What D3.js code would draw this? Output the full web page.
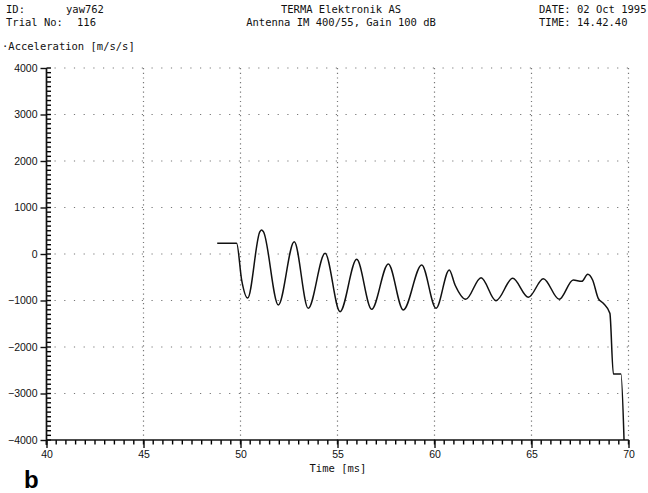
<!DOCTYPE html>
<html>
<head>
<meta charset="utf-8">
<script src="https://cdn.jsdelivr.net/npm/d3@7"></script>
<style>
  body { margin: 0; background: #fff; overflow: hidden; }
  svg { display: block; }
  .hdr { font-family: "DejaVu Sans Mono", monospace; font-size: 10.5px; fill: #111; }
  .tick text { font-family: "Liberation Sans", Arial, sans-serif; font-size: 10.5px; fill: #111; }
  .domain, .tick line { stroke: #111; }
</style>
</head>
<body>
<svg id="chart" width="648" height="493"></svg>
<script>
// time (ms) and acceleration (m/s/s)
var times = [48.80, 49.80, 50.06, 50.37, 51.00, 51.09, 51.18, 51.95, 52.77, 53.49, 54.36,
             55.13, 55.99, 56.76, 57.62, 58.39, 59.34, 60.08, 60.76, 61.06, 61.61,
             62.40, 63.17, 64.03, 64.84, 65.61, 66.43, 67.15, 67.59, 67.90, 68.15,
             68.44, 68.70, 69.04, 69.22, 69.61, 69.77];
var accel = [230, 230, -560, -946, 480, 516, 480, -1097, 265, -1168, 15,
             -1240, -115, -1190, -215, -1204, -237, -1168, -344, -667, -975,
             -509, -1004, -523, -931, -531, -975, -559, -588, -437, -559,
             -953, -1060, -1276, -2580, -2580, -4000];

var xTicks = [40, 45, 50, 55, 60, 65, 70];
var yTicks = [-4000, -3000, -2000, -1000, 0, 1000, 2000, 3000, 4000];
var xMinor = d3.range(40, 70.01, 0.5);
var yMinor = d3.range(-4000, 4001, 100);

function chart()
{
    var svg = d3.select("#chart");
    var x = d3.scaleLinear().domain([40, 70]).range([46.5, 628.5]);
    var y = d3.scaleLinear().domain([-4000, 4000]).range([440, 68]);

    // header
    var hdr = [
        {t: "ID:", x: 6, y: 13}, {t: "yaw762", x: 66, y: 13},
        {t: "Trial No:", x: 6, y: 26}, {t: "116", x: 77, y: 26},
        {t: "DATE: 02 Oct 1995", x: 539, y: 13}, {t: "TIME: 14.42.40", x: 539, y: 26},
        {t: "\u00b7Acceleration [m/s/s]", x: 2, y: 50}
    ];
    svg.selectAll(".hl").data(hdr).enter().append("text")
        .attr("class", "hdr").attr("x", d => d.x).attr("y", d => d.y).text(d => d.t);
    svg.append("text").attr("class", "hdr").attr("x", 341).attr("y", 13)
        .attr("text-anchor", "middle").text("TERMA Elektronik AS");
    svg.append("text").attr("class", "hdr").attr("x", 341).attr("y", 26)
        .attr("text-anchor", "middle").text("Antenna IM 400/55, Gain 100 dB");

    // dotted grid
    var grid = svg.append("g").attr("stroke", "#777").attr("stroke-width", 1.2);
    grid.selectAll(".gh").data(yTicks.slice(1)).enter().append("line")
        .attr("x1", x(40) + 8).attr("x2", x(70))
        .attr("y1", d => y(d)).attr("y2", d => y(d))
        .attr("stroke-dasharray", "1.2,8.5");
    grid.selectAll(".gv").data(xTicks.slice(1)).enter().append("line")
        .attr("x1", d => x(d)).attr("x2", d => x(d))
        .attr("y1", y(4000)).attr("y2", y(-4000))
        .attr("stroke-dasharray", "1.2,3.5");

    // minor tick combs
    var ax = svg.append("g").attr("stroke", "#000").attr("stroke-width", 1.4);
    ax.selectAll(".ym").data(yMinor).enter().append("line")
        .attr("x1", x(40)).attr("x2", x(40) + 4.5)
        .attr("y1", d => y(d)).attr("y2", d => y(d));
    ax.selectAll(".xm").data(xMinor).enter().append("line")
        .attr("x1", d => x(d)).attr("x2", d => x(d))
        .attr("y1", y(-4000)).attr("y2", y(-4000) + 4.5);

    // y axis: major ticks outward
    svg.append("g").attr("transform", "translate(" + x(40) + ",0)")
        .call(d3.axisLeft(y).tickValues(yTicks).tickSize(6).tickPadding(3).tickFormat(d3.format("d")))
        .call(g => g.select(".domain").attr("d", "M0," + y(4000) + "V" + (y(-4000) + 5)).attr("stroke-width", 1.7))
        .selectAll("line").attr("stroke-width", 1.4);

    // x axis
    svg.append("g").attr("transform", "translate(0," + y(-4000) + ")")
        .call(d3.axisBottom(x).tickValues(xTicks).tickSize(8).tickPadding(3).tickFormat(d3.format("d")))
        .call(g => g.select(".domain").attr("d", "M" + x(40) + ",0H" + x(70)).attr("stroke-width", 1.7))
        .selectAll("line").attr("stroke-width", 1.4);

    svg.append("text").attr("class", "hdr").attr("x", 338).attr("y", 472)
        .attr("text-anchor", "middle").text("Time [ms]");
    svg.append("text").attr("x", 24).attr("y", 488)
        .style("font", "bold 24px 'Liberation Sans', Arial, sans-serif").text("b");

    // trace
    var pts = times.map((t, i) => [t, accel[i]]);
    svg.append("path").datum(pts)
        .attr("fill", "none").attr("stroke", "#111").attr("stroke-width", 1.5)
        .attr("stroke-linejoin", "round")
        .attr("d", d3.line().x(d => x(d[0])).y(d => y(d[1])).curve(d3.curveMonotoneX));
}

chart();
</script>
</body>
</html>
